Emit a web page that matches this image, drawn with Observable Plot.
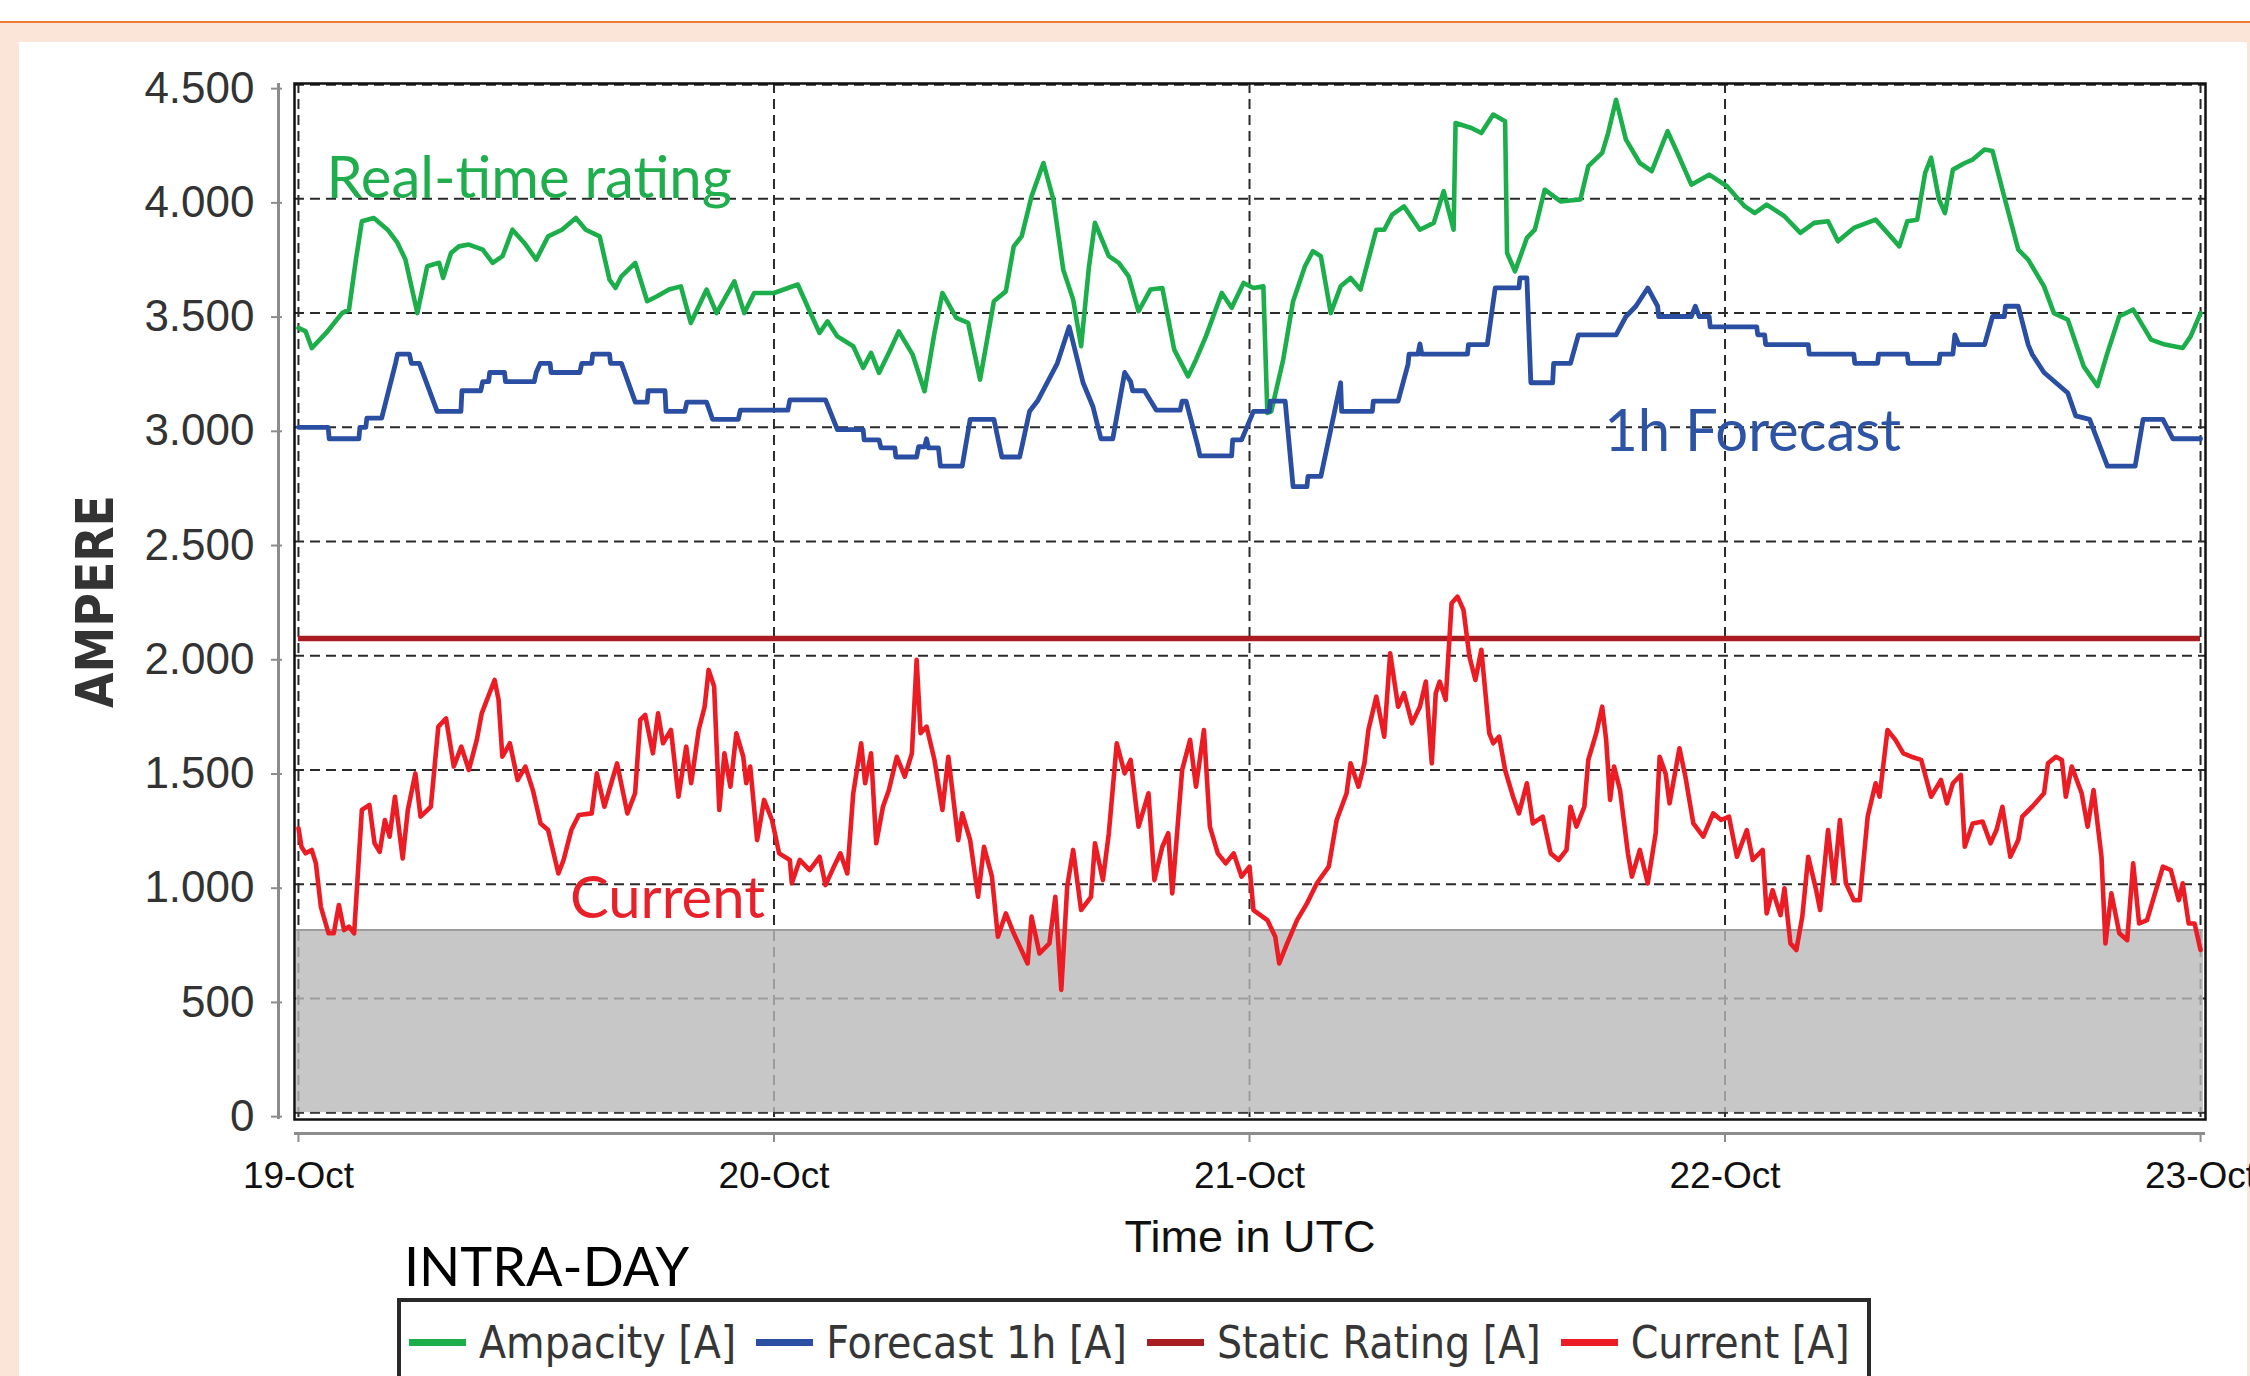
<!DOCTYPE html>
<html>
<head>
<meta charset="utf-8">
<script src="https://cdn.jsdelivr.net/npm/d3@7"></script>
<script src="https://cdn.jsdelivr.net/npm/@observablehq/plot@0.6"></script>
<style>
  html, body { margin: 0; padding: 0; }
  body { width: 2250px; height: 1376px; overflow: hidden; position: relative; background: #ffffff; }
  #peach { position: absolute; left: 0; top: 21px; width: 2250px; height: 1355px; background: #fbe5d9; border-top: 2px solid #ee7b35; box-sizing: border-box; }
  #panel { position: absolute; left: 19px; top: 42px; width: 2228px; height: 1334px; background: #ffffff; }
  #chart { position: absolute; left: 0; top: 0; }
  #title { position: absolute; left: 404px; top: 1239px; font-family: Lato, sans-serif; font-size: 54px; line-height: 54px; color: #000; white-space: nowrap; }
  #legend { position: absolute; left: 397px; top: 1298px; width: 1474px; height: 120px; border: 4px solid #2a2a2a; box-sizing: border-box; background: #fff;
            display: flex; align-items: center; padding-left: 8px; padding-top: 0; align-content: flex-start; }
  #legend .row { display: flex; align-items: center; height: 51px; margin-top: -32px; }
  #legend .sw { display: inline-block; width: 57px; height: 7px; margin-right: 13px; }
  #legend .lab { font-family: "DejaVu Sans Condensed", "DejaVu Sans", sans-serif; font-stretch: condensed; font-size: 44px; line-height: 51px; color: #363636; margin-right: 20px; white-space: nowrap; }
</style>
</head>
<body>
<div id="peach"></div>
<div id="panel"></div>
<div id="chart"></div>
<div id="title">INTRA-DAY</div>
<div id="legend"><div class="row" id="legendRow"></div></div>
<script>
// ---------- data (hours since 19-Oct 00:00 UTC, amperes) ----------
const ampacity = [
  [0,3435],[0.36,3420],[0.67,3347],[1.4,3413],[2.2,3500],[2.55,3515],[2.9,3734],[3.2,3902],[3.8,3916],[4.5,3865],
  [5.0,3807],[5.4,3734],[6.0,3500],[6.5,3705],[7.1,3720],[7.3,3654],[7.7,3763],[8.1,3792],[8.6,3800],[9.3,3778],
  [9.8,3720],[10.3,3749],[10.8,3865],[11.4,3807],[12.0,3734],[12.6,3836],[13.3,3865],[14.0,3916],[14.5,3865],[15.2,3836],
  [15.7,3646],[16.0,3610],[16.3,3661],[17.0,3720],[17.6,3552],[18.1,3574],[18.7,3603],[19.3,3617],[19.8,3457],[20.6,3603],
  [21.1,3500],[22.0,3639],[22.5,3500],[23.0,3588],[24.0,3588],[25.2,3625],[25.8,3508],[26.3,3413],[26.7,3464],[27.2,3398],
  [28.0,3355],[28.5,3260],[28.9,3326],[29.3,3238],[29.8,3326],[30.3,3420],[31.0,3318],[31.6,3158],[32.1,3413],[32.5,3588],
  [33.2,3479],[33.8,3457],[34.4,3209],[35.1,3552],[35.7,3595],[36.1,3792],[36.5,3836],[37.0,4011],[37.6,4157],[38.1,3997],
  [38.6,3690],[39.1,3559],[39.5,3355],[39.9,3705],[40.2,3895],[40.9,3749],[41.4,3720],[41.9,3661],[42.4,3508],[43.0,3603],
  [43.6,3610],[44.2,3340],[44.9,3223],[45.3,3296],[45.8,3398],[46.6,3588],[47.1,3523],[47.7,3632],[48.2,3610],[48.7,3617],
  [48.9,3063],[49.1,3070],[49.7,3296],[50.2,3552],[50.8,3705],[51.2,3771],[51.6,3749],[52.1,3500],[52.6,3617],[53.1,3654],
  [53.6,3603],[54.4,3865],[54.8,3865],[55.2,3931],[55.8,3967],[56.6,3865],[57.3,3895],[57.8,4034],[58.3,3865],[58.4,4332],
  [59.2,4310],[59.7,4288],[60.3,4369],[60.9,4340],[61.0,3763],[61.4,3683],[62.0,3829],[62.4,3865],[62.9,4040],[63.7,3989],
  [64.7,3997],[65.1,4143],[65.8,4201],[66.1,4288],[66.5,4434],[67.0,4259],[67.7,4157],[68.3,4121],[69.1,4296],[69.6,4201],
  [70.3,4062],[71.2,4106],[72.1,4055],[73.0,3967],[73.5,3938],[74.1,3975],[75.0,3924],[75.8,3851],[76.5,3895],[77.2,3902],
  [77.7,3814],[78.5,3873],[79.6,3909],[80.2,3851],[80.8,3792],[81.2,3902],[81.7,3909],[82.1,4114],[82.4,4180],[82.8,3997],
  [83.1,3938],[83.5,4128],[84.1,4157],[84.5,4172],[85.1,4216],[85.5,4209],[86.0,4040],[86.8,3778],[87.3,3734],[88.1,3617],
  [88.6,3500],[89.3,3471],[90.1,3267],[90.8,3180],[91.3,3326],[91.9,3486],[92.6,3515],[93.5,3384],[94.2,3362],[95.1,3347],
  [95.5,3398],[96.0,3500]
];

const forecast1h = [
  [0,3000],[1.5,3000],[1.55,2950],[3.05,2950],[3.1,3000],[3.4,3000],[3.45,3040],[4.2,3040],[4.9,3280],[5.0,3320],
  [5.6,3320],[5.7,3280],[6.1,3280],[7.0,3070],[8.2,3070],[8.25,3160],[9.2,3160],[9.3,3200],[9.6,3200],[9.65,3240],
  [10.4,3240],[10.45,3200],[11.9,3200],[12.0,3240],[12.2,3280],[12.7,3280],[12.75,3240],[14.2,3240],[14.3,3280],[14.8,3280],
  [14.85,3320],[15.7,3320],[15.75,3280],[16.3,3280],[17.0,3110],[17.6,3110],[17.65,3160],[18.5,3160],[18.55,3070],[19.5,3070],
  [19.6,3110],[20.6,3110],[20.9,3035],[22.2,3035],[22.3,3075],[24.7,3075],[24.8,3120],[26.6,3120],[27.2,2990],[28.5,2990],
  [28.55,2945],[29.3,2945],[29.4,2910],[30.1,2910],[30.15,2870],[31.2,2870],[31.3,2915],[31.6,2915],[31.7,2950],[31.8,2910],
  [32.3,2910],[32.4,2830],[33.5,2830],[33.9,3035],[35.1,3035],[35.5,2870],[36.4,2870],[36.9,3070],[37.3,3115],[38.3,3280],
  [38.9,3440],[39.6,3195],[40.1,3090],[40.5,2950],[41.1,2950],[41.7,3240],[42.0,3200],[42.1,3160],[42.7,3160],[43.3,3075],
  [44.5,3075],[44.6,3115],[44.8,3115],[45.4,2915],[45.5,2875],[47.1,2875],[47.15,2945],[47.6,2945],[48.2,3070],[49.0,3070],
  [49.05,3115],[49.8,3115],[50.2,2740],[50.9,2740],[50.95,2785],[51.6,2785],[52.6,3195],[52.65,3070],[54.2,3070],[54.25,3115],
  [55.5,3115],[56.0,3275],[56.05,3320],[56.5,3320],[56.6,3365],[56.7,3320],[59.0,3320],[59.05,3362],[60.0,3362],[60.4,3610],
  [61.6,3610],[61.65,3654],[62.0,3654],[62.2,3195],[63.3,3195],[63.35,3280],[64.2,3280],[64.6,3405],[66.5,3405],[67.0,3485],
  [67.5,3530],[68.1,3610],[68.6,3530],[68.65,3485],[70.3,3485],[70.5,3530],[70.7,3485],[71.2,3485],[71.25,3440],[73.6,3440],
  [73.65,3405],[74.0,3405],[74.05,3362],[76.2,3362],[76.25,3320],[78.5,3320],[78.55,3280],[79.7,3280],[79.75,3320],[81.2,3320],
  [81.25,3280],[82.8,3280],[82.85,3320],[83.5,3320],[83.6,3405],[83.8,3362],[85.1,3362],[85.5,3485],[86.1,3485],[86.15,3530],
  [86.8,3530],[87.3,3362],[87.5,3320],[88.1,3240],[88.7,3195],[89.3,3150],[89.7,3050],[90.4,3035],[91.3,2830],[92.7,2830],
  [93.1,3035],[94.1,3035],[94.6,2950],[96.0,2950]
];

const current = [
  [0,1245],[0.15,1164],[0.36,1135],[0.67,1150],[0.88,1091],[1.13,901],[1.52,785],[1.78,785],[2.04,909],[2.3,799],
  [2.55,814],[2.81,785],[3.2,1325],[3.58,1347],[3.84,1179],[4.1,1142],[4.36,1281],[4.6,1208],[4.87,1383],[5.26,1113],
  [5.52,1325],[5.9,1485],[6.16,1296],[6.68,1339],[7.06,1690],[7.45,1726],[7.84,1515],[8.22,1602],[8.6,1500],[9.0,1632],
  [9.25,1748],[9.64,1836],[9.9,1894],[10.1,1807],[10.29,1558],[10.67,1617],[11.06,1456],[11.45,1515],[11.83,1412],[12.22,1266],
  [12.6,1237],[13.12,1047],[13.38,1106],[13.77,1237],[14.15,1303],[14.8,1310],[15.06,1485],[15.44,1339],[16.08,1529],[16.6,1310],
  [16.99,1398],[17.25,1719],[17.5,1741],[17.89,1573],[18.15,1748],[18.4,1617],[18.8,1675],[19.18,1383],[19.57,1602],[19.82,1442],
  [20.2,1675],[20.5,1777],[20.7,1938],[20.98,1865],[21.24,1325],[21.5,1573],[21.8,1427],[22.1,1661],[22.45,1558],[22.6,1442],
  [22.8,1515],[23.15,1193],[23.5,1369],[23.9,1281],[24.26,1135],[24.8,1106],[24.9,1004],[25.3,1106],[25.8,1062],[26.3,1120],
  [26.6,996],[27.1,1091],[27.35,1135],[27.7,1047],[28.0,1398],[28.4,1617],[28.6,1442],[28.9,1573],[29.16,1179],[29.5,1339],
  [29.8,1412],[30.2,1558],[30.6,1471],[30.96,1573],[31.2,1982],[31.4,1661],[31.7,1690],[32.1,1544],[32.5,1325],[32.8,1558],
  [33.3,1193],[33.5,1310],[33.9,1193],[34.3,945],[34.6,1164],[35.0,1033],[35.3,770],[35.7,872],[36.1,785],[36.8,653],
  [37.0,858],[37.4,697],[37.9,741],[38.2,945],[38.5,537],[38.8,989],[39.1,1150],[39.5,887],[40.0,945],[40.2,1179],
  [40.6,1018],[40.9,1223],[41.3,1617],[41.7,1485],[42.0,1544],[42.4,1252],[42.9,1398],[43.2,1018],[43.6,1164],[43.9,1223],
  [44.1,960],[44.6,1500],[45.0,1632],[45.3,1427],[45.7,1675],[46.0,1252],[46.4,1135],[46.8,1091],[47.2,1135],[47.6,1033],
  [48.0,1077],[48.2,887],[48.9,843],[49.3,770],[49.5,653],[49.9,741],[50.4,843],[50.9,916],[51.4,1004],[52.0,1077],
  [52.4,1281],[52.9,1398],[53.1,1529],[53.5,1427],[53.8,1529],[54.0,1675],[54.4,1821],[54.8,1646],[55.1,2011],[55.5,1777],
  [55.8,1836],[56.2,1704],[56.6,1777],[56.9,1887],[57.2,1529],[57.4,1836],[57.6,1887],[57.9,1807],[58.2,2230],[58.5,2259],
  [58.8,2201],[59.1,1996],[59.4,1894],[59.7,2026],[60.1,1661],[60.3,1617],[60.6,1646],[60.9,1500],[61.3,1383],[61.6,1310],
  [62.0,1442],[62.3,1266],[62.8,1296],[63.2,1135],[63.6,1106],[64.0,1150],[64.2,1339],[64.5,1252],[64.9,1339],[65.1,1544],
  [65.5,1661],[65.8,1777],[66.0,1632],[66.2,1369],[66.4,1515],[66.7,1412],[67.1,1135],[67.3,1033],[67.7,1150],[68.1,1004],
  [68.5,1223],[68.7,1558],[69.0,1485],[69.2,1354],[69.7,1595],[70.0,1471],[70.4,1266],[70.9,1208],[71.4,1310],[71.8,1281],
  [72.2,1296],[72.6,1120],[73.1,1237],[73.4,1106],[73.9,1150],[74.1,872],[74.4,974],[74.8,865],[75.0,982],[75.3,741],
  [75.6,712],[75.9,858],[76.2,1120],[76.6,974],[76.8,887],[77.2,1237],[77.5,1004],[77.8,1281],[78.1,1004],[78.5,930],
  [78.8,930],[79.2,1296],[79.6,1442],[79.8,1383],[80.2,1675],[80.6,1632],[81.0,1573],[81.4,1558],[81.9,1544],[82.4,1383],
  [82.9,1456],[83.2,1354],[83.5,1442],[83.9,1478],[84.1,1164],[84.5,1266],[85.0,1274],[85.4,1179],[85.7,1237],[86.0,1339],
  [86.4,1120],[86.8,1193],[87.0,1296],[87.5,1339],[88.1,1398],[88.3,1529],[88.7,1558],[89.0,1544],[89.2,1383],[89.5,1515],
  [90.0,1398],[90.3,1252],[90.6,1412],[91.0,1120],[91.2,741],[91.5,960],[91.9,785],[92.3,755],[92.6,1091],[92.9,828],
  [93.3,843],[93.7,960],[94.1,1077],[94.5,1062],[94.9,930],[95.1,1004],[95.4,828],[95.7,828],[96.0,712]
];

const staticRating = 2075;
const lowBand = [0, 800];

const yTicks = [0, 500, 1000, 1500, 2000, 2500, 3000, 3500, 4000, 4500];
const yTickLabels = ["0", "500", "1.000", "1.500", "2.000", "2.500", "3.000", "3.500", "4.000", "4.500"];
const xTickDates = ["2018-10-19", "2018-10-20", "2018-10-21", "2018-10-22", "2018-10-23"].map(s => new Date(s + "T00:00:00Z"));
const xTickLabels = ["19-Oct", "20-Oct", "21-Oct", "22-Oct", "23-Oct"];

const seriesNames = ["Ampacity [A]", "Forecast 1h [A]", "Static Rating [A]", "Current [A]"];
const seriesColors = ["#1cae4a", "#2a4ea1", "#a81c22", "#ec1c24"];

const calloutText = ["Real-time rating", "1h Forecast", "Current"];
const calloutHour = [1.41, 65.9, 13.7];
const calloutValue = [4002, 2898, 854];
const calloutColors = ["#20ad4d", "#2d53a5", "#e8202a"];

// ---------- helpers ----------
const t0 = +xTickDates[0];
const toDate = h => new Date(t0 + h * 3600e3);
const toRows = arr => arr.map(([h, v]) => ({t: toDate(h), v}));
const xDomain = [toDate(-0.2), toDate(96.25)];
const yDomain = [-30, 4505];

const fmtY = d => yTickLabels[yTicks.indexOf(d)];
const fmtX = d => xTickLabels[xTickDates.findIndex(t => +t === +d)];

const gridStyle = {stroke: "#2a2a2a", strokeOpacity: 1, strokeWidth: 2, strokeDasharray: "10,6"};

const chart = Plot.plot({
  width: 2250,
  height: 1272,
  marginLeft: 294,
  marginRight: 45,
  marginTop: 83,
  marginBottom: 153,
  style: {background: "transparent", fontFamily: "'Liberation Sans', Arial, sans-serif", color: "#222"},
  x: {type: "utc", domain: xDomain, label: null},
  y: {domain: yDomain, label: null},
  marks: [
    Plot.gridY(yTicks, gridStyle),
    Plot.gridX(xTickDates, gridStyle),
    Plot.rect([lowBand], {x1: () => xDomain[0], x2: () => xDomain[1], y1: d => d[0], y2: d => d[1], fill: "#b9b9b9", fillOpacity: 0.8, insetLeft: 2, insetRight: 2}),
    Plot.ruleY([lowBand[1]], {stroke: "#9c9c9c", strokeWidth: 2, insetLeft: 2, insetRight: 2}),
    Plot.line(toRows(ampacity), {x: "t", y: "v", stroke: seriesColors[0], strokeWidth: 4.6, strokeLinejoin: "round"}),
    Plot.line(toRows(forecast1h), {x: "t", y: "v", stroke: seriesColors[1], strokeWidth: 4.8, strokeLinejoin: "round"}),
    Plot.ruleY([staticRating], {x1: () => xTickDates[0], x2: () => xTickDates[4], stroke: seriesColors[2], strokeWidth: 5.5}),
    Plot.line(toRows(current), {x: "t", y: "v", stroke: seriesColors[3], strokeWidth: 4.6, strokeLinejoin: "round"}),
    Plot.frame({stroke: "#111", strokeWidth: 2.5}),
    // axis lines (offset from the frame)
    Plot.ruleX([xDomain[0]], {dx: -16, stroke: "#8c8c8c", strokeWidth: 3}),
    Plot.ruleY([yDomain[0]], {dy: 14, stroke: "#8c8c8c", strokeWidth: 3}),
    Plot.axisY({ticks: yTicks, anchor: "left", tickSize: 11, dx: -12, tickPadding: 17, stroke: "#8c8c8c", strokeWidth: 2,
                fill: "#333", fontSize: 44, dy: 4, tickFormat: fmtY, label: null}),
    Plot.axisX({ticks: xTickDates, anchor: "bottom", tickSize: 9, dy: 14, tickPadding: 19, stroke: "#8c8c8c", strokeWidth: 2,
                fill: "#111", fontSize: 37, tickFormat: fmtX, label: null}),
    // callouts
    ...calloutText.map((s, i) => Plot.text([s], {x: () => toDate(calloutHour[i]), y: () => calloutValue[i], text: d => d,
        fill: calloutColors[i], fontSize: 58, fontFamily: "Lato, sans-serif", textAnchor: "start", lineAnchor: "bottom"})),
    // axis titles
    Plot.text(["AMPERE"], {frameAnchor: "left", dx: -198, rotate: -90, text: d => d, fontSize: 51, fontWeight: "bold",
        fontFamily: "'DejaVu Sans Condensed','DejaVu Sans',sans-serif", fill: "#333", textAnchor: "middle", lineAnchor: "middle"}),
    Plot.text(["Time in UTC"], {frameAnchor: "bottom", dy: 132, text: d => d, fontSize: 45, fill: "#111",
        textAnchor: "middle", lineAnchor: "bottom"})
  ]
});
document.getElementById("chart").appendChild(chart);

// legend
const row = document.getElementById("legendRow");
seriesNames.forEach((name, i) => {
  const sw = document.createElement("span");
  sw.className = "sw";
  sw.style.background = seriesColors[i];
  const lab = document.createElement("span");
  lab.className = "lab";
  lab.textContent = name;
  row.appendChild(sw);
  row.appendChild(lab);
});
</script>
</body>
</html>
